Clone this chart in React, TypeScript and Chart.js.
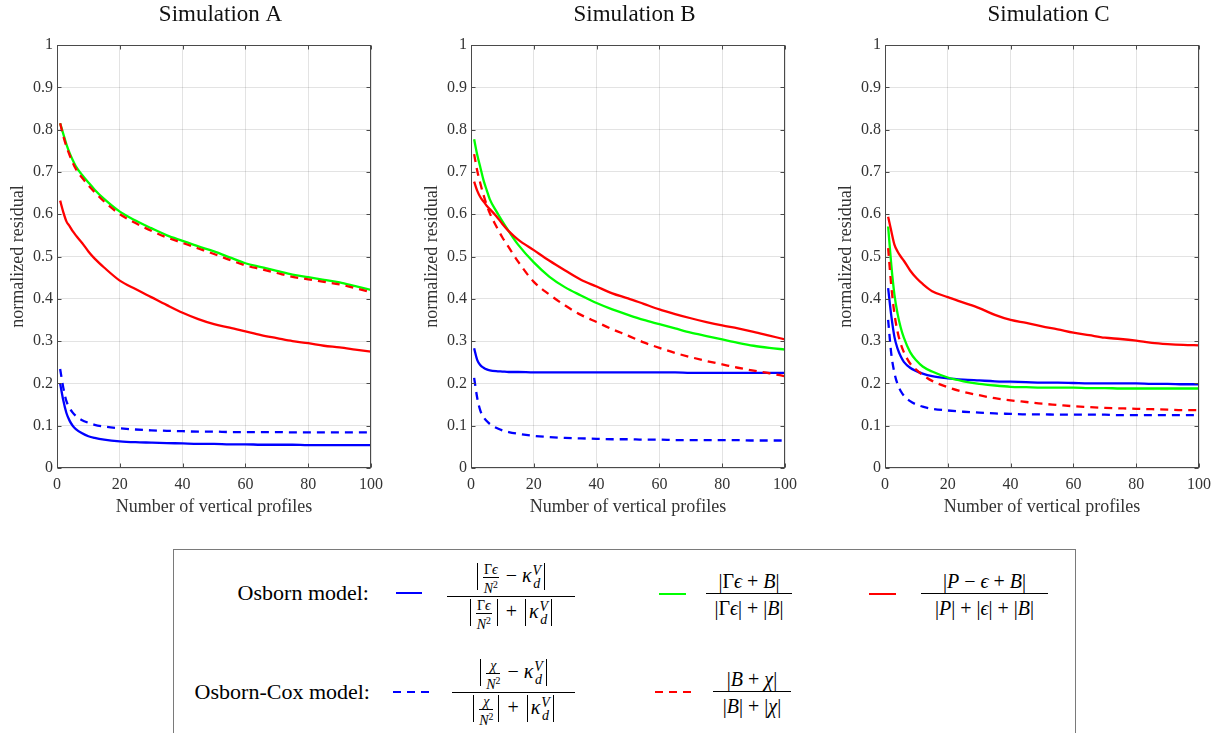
import React, { useEffect, useRef } from "react";
import { Chart, registerables } from "chart.js";
Chart.register(...registerables);

// ---------- data ----------
const profiles = [1, 2, 3, 4, 5, 6, 8, 10, 12, 15, 20, 25, 30, 35, 40, 45, 50, 55, 60, 65, 70, 75, 80, 85, 90, 95, 100];
const xTicks = [0, 20, 40, 60, 80, 100];
const yTicks = [0, 0.1, 0.2, 0.3, 0.4, 0.5, 0.6, 0.7, 0.8, 0.9, 1];
const titles = ["Simulation A", "Simulation B", "Simulation C"];

// Simulation A
const simA_osborn = [0.2, 0.16, 0.13, 0.112, 0.1, 0.092, 0.082, 0.075, 0.071, 0.067, 0.063, 0.061, 0.06, 0.059, 0.058, 0.057, 0.057, 0.056, 0.056, 0.055, 0.055, 0.055, 0.054, 0.054, 0.054, 0.054, 0.054];
const simA_osbornCox = [0.234, 0.19, 0.158, 0.142, 0.131, 0.123, 0.113, 0.107, 0.102, 0.098, 0.094, 0.091, 0.089, 0.088, 0.087, 0.086, 0.086, 0.085, 0.085, 0.085, 0.085, 0.084, 0.084, 0.084, 0.084, 0.084, 0.084];
const simA_gammaEpsB = [0.815, 0.79, 0.765, 0.745, 0.728, 0.713, 0.693, 0.675, 0.658, 0.636, 0.606, 0.585, 0.567, 0.55, 0.537, 0.524, 0.512, 0.498, 0.484, 0.475, 0.466, 0.457, 0.451, 0.445, 0.439, 0.43, 0.421];
const simA_pEpsB = [0.632, 0.605, 0.583, 0.572, 0.56, 0.55, 0.532, 0.512, 0.495, 0.474, 0.443, 0.423, 0.404, 0.385, 0.367, 0.352, 0.34, 0.332, 0.323, 0.314, 0.307, 0.3, 0.295, 0.289, 0.285, 0.28, 0.275];
const simA_bChi = [0.815, 0.785, 0.76, 0.74, 0.722, 0.707, 0.686, 0.668, 0.652, 0.63, 0.6, 0.579, 0.561, 0.545, 0.532, 0.519, 0.506, 0.492, 0.479, 0.47, 0.461, 0.452, 0.446, 0.44, 0.434, 0.425, 0.416];

// Simulation B
const simB_osborn = [0.283, 0.255, 0.243, 0.237, 0.233, 0.231, 0.229, 0.228, 0.227, 0.227, 0.226, 0.226, 0.226, 0.226, 0.226, 0.226, 0.226, 0.226, 0.226, 0.226, 0.225, 0.225, 0.225, 0.225, 0.225, 0.225, 0.225];
const simB_osbornCox = [0.213, 0.165, 0.135, 0.12, 0.111, 0.104, 0.095, 0.089, 0.085, 0.081, 0.076, 0.073, 0.071, 0.07, 0.069, 0.068, 0.068, 0.067, 0.067, 0.066, 0.066, 0.066, 0.066, 0.066, 0.065, 0.065, 0.065];
const simB_gammaEpsB = [0.777, 0.74, 0.71, 0.68, 0.657, 0.635, 0.608, 0.583, 0.56, 0.528, 0.486, 0.452, 0.427, 0.408, 0.39, 0.375, 0.362, 0.35, 0.34, 0.33, 0.32, 0.312, 0.304, 0.296, 0.289, 0.284, 0.28];
const simB_pEpsB = [0.677, 0.655, 0.64, 0.63, 0.62, 0.612, 0.596, 0.577, 0.56, 0.54, 0.515, 0.49, 0.467, 0.445, 0.429, 0.413, 0.401, 0.388, 0.375, 0.364, 0.354, 0.345, 0.337, 0.33, 0.322, 0.313, 0.304];
const simB_bChi = [0.742, 0.702, 0.672, 0.645, 0.622, 0.602, 0.572, 0.545, 0.522, 0.488, 0.44, 0.41, 0.384, 0.362, 0.345, 0.328, 0.313, 0.297, 0.284, 0.272, 0.262, 0.253, 0.245, 0.237, 0.23, 0.224, 0.217];

// Simulation C
const simC_osborn = [0.425, 0.36, 0.31, 0.282, 0.264, 0.251, 0.237, 0.229, 0.223, 0.217, 0.212, 0.209, 0.207, 0.205, 0.204, 0.203, 0.202, 0.202, 0.201, 0.2, 0.2, 0.2, 0.2, 0.199, 0.199, 0.198, 0.198];
const simC_osbornCox = [0.35, 0.27, 0.225, 0.198, 0.182, 0.171, 0.158, 0.15, 0.145, 0.14, 0.136, 0.133, 0.131, 0.129, 0.128, 0.127, 0.127, 0.126, 0.126, 0.126, 0.126, 0.125, 0.125, 0.125, 0.125, 0.125, 0.125];
const simC_gammaEpsB = [0.571, 0.48, 0.41, 0.365, 0.332, 0.308, 0.274, 0.254, 0.24, 0.228, 0.214, 0.205, 0.199, 0.195, 0.192, 0.191, 0.19, 0.19, 0.19, 0.189, 0.189, 0.188, 0.188, 0.188, 0.188, 0.188, 0.188];
const simC_pEpsB = [0.594, 0.56, 0.528, 0.512, 0.5, 0.49, 0.467, 0.449, 0.435, 0.418, 0.404, 0.391, 0.378, 0.362, 0.35, 0.343, 0.335, 0.328, 0.32, 0.314, 0.308, 0.305, 0.301, 0.296, 0.293, 0.291, 0.29];
const simC_bChi = [0.52, 0.43, 0.365, 0.322, 0.294, 0.274, 0.247, 0.232, 0.22, 0.206, 0.191, 0.18, 0.172, 0.165, 0.16, 0.156, 0.152, 0.149, 0.146, 0.144, 0.142, 0.141, 0.14, 0.139, 0.138, 0.137, 0.137];

const panels = [
  { title: titles[0], bChi: simA_bChi, pEpsB: simA_pEpsB, gammaEpsB: simA_gammaEpsB, osbornCox: simA_osbornCox, osborn: simA_osborn },
  { title: titles[1], bChi: simB_bChi, pEpsB: simB_pEpsB, gammaEpsB: simB_gammaEpsB, osbornCox: simB_osbornCox, osborn: simB_osborn },
  { title: titles[2], bChi: simC_bChi, pEpsB: simC_pEpsB, gammaEpsB: simC_gammaEpsB, osbornCox: simC_osbornCox, osborn: simC_osborn },
];

// ---------- styling ----------
const SERIF = '"Liberation Serif", "DejaVu Serif", serif';
const AXIS = "#333333";
const BLUE = "#0000ff";
const GREEN = "#00ff00";
const RED = "#ff0000";
const DASH = [8, 6];
const CANVAS_W = 441;
const CANVAS_H = 518;
const PLOT_LEFTS = [57, 471, 885];

const framePlugin = {
  id: "frameTicks",
  afterDraw(chart: any) {
    const { ctx, chartArea: a, scales } = chart;
    ctx.save();
    ctx.strokeStyle = "#4a4a4a";
    ctx.lineWidth = 1;
    const L = Math.round(a.left) + 0.5;
    const R = Math.round(a.right) - 0.5;
    const T = Math.round(a.top) + 0.5;
    const B = Math.round(a.bottom) - 0.5;
    ctx.strokeRect(L, T, R - L, B - T);
    ctx.beginPath();
    for (const v of yTicks) {
      const y = Math.round(scales.y.getPixelForValue(v)) + 0.5;
      ctx.moveTo(L, y); ctx.lineTo(L + 4, y);
      ctx.moveTo(R, y); ctx.lineTo(R - 4, y);
    }
    for (const v of xTicks) {
      const x = Math.round(scales.x.getPixelForValue(v)) + 0.5;
      ctx.moveTo(x, B); ctx.lineTo(x, B - 4);
      ctx.moveTo(x, T); ctx.lineTo(x, T + 4);
    }
    ctx.stroke();
    ctx.restore();
  },
};

function pts(arr: number[]) {
  return profiles.map((x, i) => ({ x, y: arr[i] }));
}

function Panel({ idx }: { idx: number }) {
  const ref = useRef<HTMLCanvasElement>(null);
  useEffect(() => {
    const p = panels[idx];
    const ds = (data: number[], color: string, dashed: boolean) => ({
      data: pts(data),
      borderColor: color,
      backgroundColor: color,
      borderWidth: 2.3,
      borderDash: dashed ? DASH : [],
      pointRadius: 0,
      cubicInterpolationMode: "monotone" as const,
      fill: false,
    });
    const chart = new Chart(ref.current!, {
      type: "line",
      data: {
        datasets: [
          ds(p.bChi, RED, true),
          ds(p.pEpsB, RED, false),
          ds(p.gammaEpsB, GREEN, false),
          ds(p.osbornCox, BLUE, true),
          ds(p.osborn, BLUE, false),
        ],
      },
      options: {
        responsive: false,
        animation: false,
        layout: { padding: 0 },
        plugins: {
          legend: { display: false },
          tooltip: { enabled: false },
          title: {
            display: true,
            text: p.title,
            color: "#111",
            font: { family: SERIF, size: 23, weight: "normal" },
            padding: { top: 1, bottom: 16.4 },
          },
        },
        scales: {
          x: {
            type: "linear",
            min: 0,
            max: 100,
            afterBuildTicks: (s: any) => { s.ticks = xTicks.map((v) => ({ value: v })); },
            afterFit: (s: any) => { s.height = 50; },
            ticks: { color: AXIS, font: { family: SERIF, size: 16 }, padding: 7, callback: (v: any) => String(v), maxRotation: 0 },
            grid: { color: "rgba(0,0,0,0.11)", drawTicks: false },
            border: { display: false },
            title: { display: true, text: "Number of vertical profiles", color: AXIS, font: { family: SERIF, size: 18 }, padding: { top: 0, bottom: 0 } },
          },
          y: {
            type: "linear",
            position: "left",
            min: 0,
            max: 1,
            afterBuildTicks: (s: any) => { s.ticks = yTicks.map((v) => ({ value: v })); },
            afterFit: (s: any) => { s.width = 57; },
            ticks: { color: AXIS, font: { family: SERIF, size: 16 }, padding: 4, callback: (v: any) => String(v) },
            grid: { color: "rgba(0,0,0,0.11)", drawTicks: false },
            border: { display: false },
            title: { display: true, text: "normalized residual", color: AXIS, font: { family: SERIF, size: 18 }, padding: { top: 7, bottom: 0 } },
          },
          yRight: {
            type: "linear",
            position: "right",
            display: true,
            ticks: { display: false },
            grid: { display: false },
            border: { display: false },
            afterFit: (s: any) => { s.width = 70; },
          },
        },
      },
      plugins: [framePlugin],
    } as any);
    return () => chart.destroy();
  }, [idx]);
  return (
    <canvas
      ref={ref}
      width={CANVAS_W}
      height={CANVAS_H}
      style={{ position: "absolute", left: PLOT_LEFTS[idx] - 57, top: 0, width: CANVAS_W, height: CANVAS_H }}
    />
  );
}

// ---------- legend math ----------
const I = ({ c }: { c: string }) => <span style={{ fontStyle: "italic" }}>{c}</span>;
const BigBar = () => (
  <span
    style={{
      display: "inline-block",
      width: 0,
      height: 27,
      borderLeft: "1.1px solid #000",
      verticalAlign: "-8px",
      margin: "0 3px",
    }}
  />
);
const Sq = () => <span style={{ fontSize: "0.7em", verticalAlign: "0.5em" }}>2</span>;
const SmallFrac = ({ n }: { n: React.ReactNode }) => (
  <span
    style={{
      display: "inline-flex",
      flexDirection: "column",
      alignItems: "center",
      verticalAlign: "8px",
      fontSize: 14,
      lineHeight: "14px",
      margin: "0 2px",
    }}
  >
    <span style={{ padding: "0 1px" }}>{n}</span>
    <span style={{ borderTop: "1px solid #000", alignSelf: "stretch", textAlign: "center" }}>
      <I c="N" />
      <Sq />
    </span>
  </span>
);
const Kappa = () => (
  <span>
    <I c="κ" />
    <span
      style={{
        display: "inline-flex",
        flexDirection: "column",
        fontSize: 14,
        lineHeight: "13px",
        verticalAlign: "7px",
        fontStyle: "italic",
        marginLeft: 1,
      }}
    >
      <span>V</span>
      <span>d</span>
    </span>
  </span>
);

function Frac({ x, y, w, num, den }: { x: number; y: number; w: number; num: React.ReactNode; den: React.ReactNode }) {
  return (
    <div style={{ position: "absolute", left: x, top: y, width: w, height: 0, fontFamily: SERIF, fontSize: 20, color: "#000" }}>
      <div style={{ position: "absolute", bottom: 1, left: -20, right: -20, textAlign: "center", whiteSpace: "nowrap", lineHeight: "24px" }}>{num}</div>
      <div style={{ position: "absolute", top: -0.6, left: 0, right: 0, borderTop: "1.2px solid #000" }} />
      <div style={{ position: "absolute", top: 2, left: -20, right: -20, textAlign: "center", whiteSpace: "nowrap", lineHeight: "24px" }}>{den}</div>
    </div>
  );
}

function Sample({ x, y, w, color, dashed }: { x: number; y: number; w: number; color: string; dashed: boolean }) {
  return (
    <div
      style={{
        position: "absolute",
        left: x,
        top: y - 1,
        width: w,
        height: 2.3,
        background: dashed ? `repeating-linear-gradient(to right, ${color} 0 8px, transparent 8px 14px)` : color,
      }}
    />
  );
}

function Label({ right, y, text }: { right: number; y: number; text: string }) {
  return (
    <div
      style={{
        position: "absolute",
        right: 1222 - right,
        top: y - 13,
        lineHeight: "26px",
        fontFamily: SERIF,
        fontSize: 22,
        color: "#000",
        whiteSpace: "nowrap",
      }}
    >
      {text}
    </div>
  );
}

const legendModels = ["Osborn model:", "Osborn-Cox model:"];

function Legend() {
  return (
    <>
      <div style={{ position: "absolute", left: 173, top: 549, width: 901, height: 250, border: "1px solid #7a7a7a", background: "#fff" }} />
      <Label right={369} y={593} text={legendModels[0]} />
      <Label right={370} y={692} text={legendModels[1]} />
      <Sample x={396} y={593} w={26} color={BLUE} dashed={false} />
      <Sample x={393} y={692} w={36} color={BLUE} dashed={true} />
      <Sample x={659} y={594} w={27} color={GREEN} dashed={false} />
      <Sample x={869} y={594} w={27} color={RED} dashed={false} />
      <Sample x={655} y={692} w={37} color={RED} dashed={true} />
      <Frac
        x={447}
        y={597}
        w={128}
        num={<><BigBar /><SmallFrac n={<>Γ<I c="ϵ" /></>} /> − <Kappa /><BigBar /></>}
        den={<><BigBar /><SmallFrac n={<>Γ<I c="ϵ" /></>} /><BigBar /> + <BigBar /><Kappa /><BigBar /></>}
      />
      <Frac
        x={452}
        y={693}
        w={123}
        num={<><BigBar /><SmallFrac n={<I c="χ" />} /> − <Kappa /><BigBar /></>}
        den={<><BigBar /><SmallFrac n={<I c="χ" />} /><BigBar /> + <BigBar /><Kappa /><BigBar /></>}
      />
      <Frac
        x={706}
        y={594}
        w={86}
        num={<>|Γ<I c="ϵ" /> + <I c="B" />|</>}
        den={<>|Γ<I c="ϵ" />| + |<I c="B" />|</>}
      />
      <Frac
        x={921}
        y={594}
        w={127}
        num={<>|<I c="P" /> − <I c="ϵ" /> + <I c="B" />|</>}
        den={<>|<I c="P" />| + |<I c="ϵ" />| + |<I c="B" />|</>}
      />
      <Frac
        x={713}
        y={692}
        w={78}
        num={<>|<I c="B" /> + <I c="χ" />|</>}
        den={<>|<I c="B" />| + |<I c="χ" />|</>}
      />
    </>
  );
}

export default function App() {
  return (
    <div style={{ position: "absolute", left: 0, top: 0, width: 1222, height: 733, overflow: "hidden", background: "#fff" }}>
      <Panel idx={0} />
      <Panel idx={1} />
      <Panel idx={2} />
      <Legend />
    </div>
  );
}
